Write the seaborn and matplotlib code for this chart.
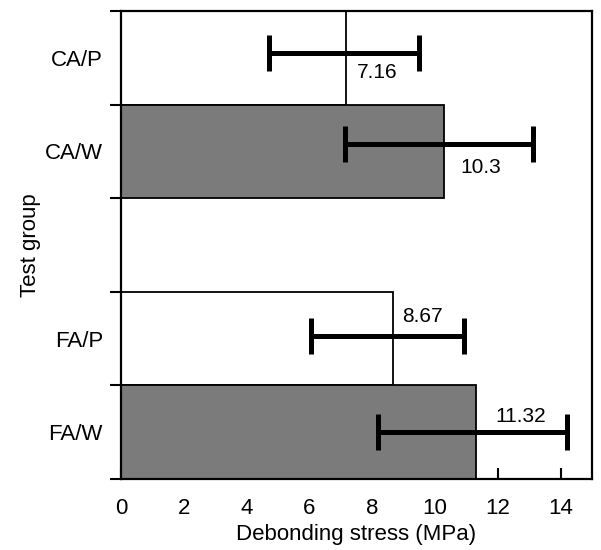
import matplotlib
matplotlib.use("Agg")
import matplotlib.pyplot as plt
import seaborn as sns
import pandas as pd
import numpy as np

# ---- data ----
groups = ["CA/P", "CA/W", "FA/P", "FA/W"]
means = [7.16, 10.3, 8.67, 11.32]
err_low = [4.72, 7.12, 6.06, 8.18]
err_high = [9.50, 13.12, 10.92, 14.19]
value_labels = ["7.16", "10.3", "8.67", "11.32"]
order = ["CA/P", "CA/W", " ", "FA/P", "FA/W"]
xticks = [0, 2, 4, 6, 8, 10, 12, 14]

# ---- style ----
sns.set_theme(style="white")
plt.rcParams["font.family"] = ["Liberation Sans", "DejaVu Sans"]
plt.rcParams.update({"text.color": "black", "axes.labelcolor": "black",
                     "xtick.color": "black", "ytick.color": "black"})
palette = {"CA/P": "white", "CA/W": "#7b7b7b", "FA/P": "white", "FA/W": "#7b7b7b"}
label_dx = [1.0, 1.15, 0.93, 1.4]
label_dy = [0.16, 0.17, -0.24, -0.17]
err_dy = [-0.05, -0.08, -0.03, 0.0]
fs = 16

df = pd.DataFrame({"group": groups, "stress": means})

fig = plt.figure(figsize=(6.01, 5.50), dpi=100)
ax = fig.add_axes([0.2013, 0.129, 0.7837, 0.851])

sns.barplot(data=df, x="stress", y="group", hue="group", order=order,
            palette=palette, width=1.0, edgecolor="black", linewidth=1.3,
            legend=False, ax=ax, orient="h")

pos = {g: order.index(g) for g in groups}
for i, g in enumerate(groups):
    y = pos[g] + err_dy[i]
    center = (err_low[i] + err_high[i]) / 2
    half = (err_high[i] - err_low[i]) / 2
    ax.errorbar(center, y, xerr=half, fmt="none", ecolor="black",
                elinewidth=3.6, capsize=13, capthick=3.6, zorder=5)
    ax.text(means[i] + label_dx[i], pos[g] + label_dy[i], value_labels[i],
            ha="center", va="center", fontsize=15, color="black", zorder=6)

ax.set_xlim(0, 15)
ax.set_ylim(len(order) - 0.5, -0.5)
ax.set_xticks(xticks)
ax.set_xticklabels([str(t) for t in xticks], fontsize=fs)
ax.set_yticks(np.arange(-0.5, len(order), 1.0))
ax.set_yticklabels([])
ax.set_yticks([pos[g] for g in groups], minor=True)
ax.set_yticklabels(groups, minor=True, fontsize=fs)
ax.tick_params(axis="y", which="major", direction="out", length=8, width=1.5, color="black", left=True)
ax.tick_params(axis="y", which="minor", length=0, pad=13, left=True, labelcolor="black")
ax.tick_params(axis="x", which="major", direction="in", length=8, width=1.5, color="black",
               bottom=True, pad=14, labelcolor="black")

ax.set_xlabel("Debonding stress (MPa)", fontsize=fs, labelpad=3, color="black")
ax.set_ylabel("Test group", fontsize=fs, labelpad=3, color="black")

for s in ax.spines.values():
    s.set_visible(True)
    s.set_color("black")
    s.set_linewidth(1.6)

fig.savefig("out.png", dpi=100, facecolor="white")
